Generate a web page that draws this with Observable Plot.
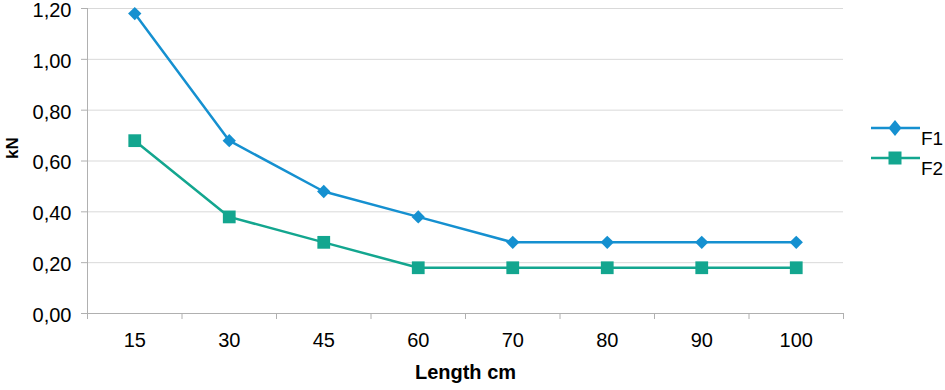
<!DOCTYPE html>
<html>
<head>
<meta charset="utf-8">
<script src="https://cdn.jsdelivr.net/npm/d3@7"></script>
<script src="https://cdn.jsdelivr.net/npm/@observablehq/plot@0.6"></script>
<style>
  html, body { margin: 0; padding: 0; background: #fff; }
  #wrap { position: relative; width: 945px; height: 390px; font-family: "Liberation Sans", Arial, sans-serif; }
  #wrap svg { overflow: visible; }
  #legend { position: absolute; left: 871px; top: 112px; font-size: 19px; color: #000; }
  .item { position: relative; height: 30px; width: 74px; }
  .item svg { position: absolute; left: 0; top: 4px; }
  .item span { position: absolute; left: 50px; top: 17px; line-height: 19px; }
</style>
</head>
<body>
<div id="wrap"></div>
<script>
const lengths = ["15", "30", "45", "60", "70", "80", "90", "100"];
const f1 = [1.18, 0.68, 0.48, 0.38, 0.28, 0.28, 0.28, 0.28];
const f2 = [0.68, 0.38, 0.28, 0.18, 0.18, 0.18, 0.18, 0.18];
const yTicks = [0, 0.2, 0.4, 0.6, 0.8, 1.0, 1.2];
const seriesNames = ["F1", "F2"];
const colors = ["#1590d0", "#13a68f"];

const rows = [];
lengths.forEach((l, i) => {
  rows.push({series: "F1", i, pos: i + 0.5, value: f1[i]});
  rows.push({series: "F2", i, pos: i + 0.5, value: f2[i]});
});
const f1rows = rows.filter(d => d.series === "F1");
const f2rows = rows.filter(d => d.series === "F2");
const boundaries = d3.range(0, lengths.length + 1);
const centers = lengths.map((_, i) => i + 0.5);
const fmt = v => v.toFixed(2).replace(".", ",");

const chart = Plot.plot({
  width: 945,
  height: 390,
  marginLeft: 87,
  marginRight: 102,
  marginTop: 8,
  marginBottom: 77,
  style: {fontFamily: "Liberation Sans, Arial, sans-serif", fontSize: "20px", color: "#000", background: "#fff", overflow: "visible"},
  x: {type: "linear", domain: [0, lengths.length]},
  y: {type: "linear", domain: [0, 1.2]},
  marks: [
    Plot.ruleY(yTicks.filter(v => v > 0), {x1: 0, x2: lengths.length, stroke: "#d9d9d9", strokeWidth: 1}),
    Plot.ruleY([0], {x1: 0, x2: lengths.length, stroke: "#b0b0b0", strokeWidth: 1}),
    Plot.ruleX([0], {y1: 0, y2: 1.2, stroke: "#b0b0b0", strokeWidth: 1}),
    Plot.axisY({ticks: yTicks, tickSize: 6, tickFormat: () => "", stroke: "#b0b0b0", label: null}),
    Plot.axisY({ticks: yTicks, tickSize: 0, tickPadding: 16, tickFormat: fmt, fontSize: 20, label: null, dy: 2}),
    Plot.axisX({ticks: boundaries, tickSize: 6, tickFormat: () => "", stroke: "#b0b0b0", label: null}),
    Plot.axisX({ticks: centers, tickSize: 0, tickPadding: 19, tickFormat: (d) => lengths[Math.floor(d)], fontSize: 20, label: null}),
    Plot.line(f1rows, {x: "pos", y: "value", stroke: colors[0], strokeWidth: 2.5}),
    Plot.line(f2rows, {x: "pos", y: "value", stroke: colors[1], strokeWidth: 2.5}),
    Plot.dot(f1rows, {x: "pos", y: "value", symbol: "diamond2", r: 6, fill: colors[0], stroke: "none"}),
    Plot.dot(f2rows, {x: "pos", y: "value", symbol: "square", r: 7.2, fill: colors[1], stroke: "none"}),
    Plot.text(["Length cm"], {frameAnchor: "bottom", dy: 65, fontWeight: "bold", fontSize: 20, fill: "#000"}),
    Plot.text(["kN"], {frameAnchor: "left", dx: -75, dy: -2, rotate: -90, fontWeight: "bold", fontSize: 17, fill: "#000"})
  ]
});
document.getElementById("wrap").appendChild(chart);

// legend
const legend = document.createElement("div");
legend.id = "legend";
seriesNames.forEach((name, k) => {
  const item = document.createElement("div");
  item.className = "item";
  const shape = k === 0
    ? `<path d="M24,4 L30.5,12 L24,20 L17.5,12 Z" fill="${colors[k]}"/>`
    : `<rect x="17.5" y="5.5" width="13" height="13" fill="${colors[k]}"/>`;
  item.innerHTML = `<svg width="50" height="24"><line x1="0" x2="49" y1="12" y2="12" stroke="${colors[k]}" stroke-width="2.5"/>${shape}</svg><span>${name}</span>`;
  legend.appendChild(item);
});
document.getElementById("wrap").appendChild(legend);
</script>
</body>
</html>
